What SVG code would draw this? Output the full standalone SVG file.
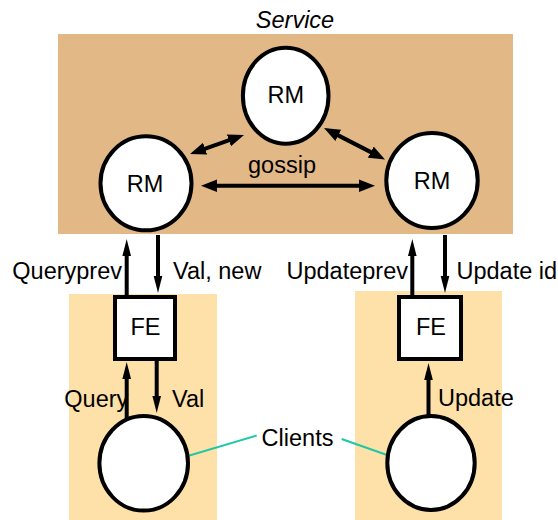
<svg xmlns="http://www.w3.org/2000/svg" width="558" height="520" viewBox="0 0 558 520">
<style>
text{font-family:"Liberation Sans",Arial,sans-serif;font-size:23.5px;fill:#000}
.mid{text-anchor:middle}
.end{text-anchor:end}
.node{fill:#fff;stroke:#000;stroke-width:4}
.conn{stroke:#000;stroke-width:4;fill:none}
.lbl{stroke:#1EC8A6;stroke-width:2;fill:none}
</style>
<defs>
<marker id="ah" markerUnits="userSpaceOnUse" markerWidth="18" markerHeight="10" viewBox="0 -5 18 10" refX="5" refY="0" orient="auto-start-reverse">
<path d="M0,-4.3 L17,0 L0,4.3 Z" fill="#000"/>
</marker>
<marker id="gh" markerUnits="userSpaceOnUse" markerWidth="17" markerHeight="14" viewBox="0 -7 17 14" refX="5" refY="0" orient="auto-start-reverse">
<path d="M0,-6.3 L16,0 L0,6.3 Z" fill="#000"/>
</marker>
</defs>
<g id="service">
<rect x="58" y="34" width="455" height="200" fill="#E2B887"/>
<text x="295" y="28" class="mid" font-style="italic">Service</text>
</g>
<g id="client-area-left"><rect x="69" y="294" width="148" height="226" fill="#FEE0A9"/></g>
<g id="client-area-right"><rect x="355" y="291" width="147" height="229" fill="#FEE0A9"/></g>
<g id="connectors">
<line class="conn" x1="212" y1="185.7" x2="364" y2="185.7" marker-start="url(#gh)" marker-end="url(#gh)"/>
<line class="conn" x1="200.4" y1="150.3" x2="233.6" y2="138.7" marker-start="url(#gh)" marker-end="url(#gh)"/>
<line class="conn" x1="333.8" y1="133.1" x2="375.2" y2="154.4" marker-start="url(#gh)" marker-end="url(#gh)"/>
<line class="conn" x1="126.7" y1="297" x2="126.7" y2="251" marker-end="url(#ah)"/>
<line class="conn" x1="158" y1="235" x2="158" y2="281" marker-end="url(#ah)"/>
<line class="conn" x1="412.3" y1="297" x2="412.3" y2="251" marker-end="url(#ah)"/>
<line class="conn" x1="445" y1="235" x2="445" y2="281" marker-end="url(#ah)"/>
<line class="conn" x1="126.7" y1="418" x2="126.7" y2="374" marker-end="url(#ah)"/>
<line class="conn" x1="156.7" y1="359" x2="156.7" y2="401" marker-end="url(#ah)"/>
<line class="conn" x1="428.5" y1="418" x2="428.5" y2="375" marker-end="url(#ah)"/>
<line class="lbl" x1="177.7" y1="459" x2="256.7" y2="435.5"/>
<line class="lbl" x1="341.7" y1="439" x2="399" y2="459.3"/>
</g>
<g id="rm-top"><ellipse class="node" cx="285.7" cy="95.7" rx="42.8" ry="48"/><text x="285.7" y="103.3" class="mid">RM</text></g>
<g id="rm-left"><ellipse class="node" cx="146" cy="183.3" rx="45.5" ry="47"/><text x="145" y="192.3" class="mid">RM</text></g>
<g id="rm-right"><ellipse class="node" cx="432" cy="180.5" rx="45.7" ry="47.5"/><text x="432" y="189" class="mid">RM</text></g>
<g id="gossip-label"><text x="282" y="173.3" class="mid">gossip</text></g>
<g id="fe-left"><rect class="node" x="115" y="297" width="60" height="62"/><text x="145.5" y="335" class="mid">FE</text></g>
<g id="fe-right"><rect class="node" x="399" y="297" width="62" height="62"/><text x="431" y="335" class="mid">FE</text></g>
<g id="client-left"><ellipse class="node" cx="143.7" cy="463.3" rx="44.3" ry="47.3"/></g>
<g id="client-right"><ellipse class="node" cx="431" cy="463" rx="43.7" ry="47"/></g>
<g id="labels">
<text x="122" y="279.3" class="end">Queryprev</text>
<text x="173" y="279.3">Val, new</text>
<text x="408" y="279.3" class="end">Updateprev</text>
<text x="456.5" y="279.3">Update id</text>
<text x="64.3" y="406.7">Query</text>
<text x="172" y="406.7">Val</text>
<text x="438" y="406">Update</text>
<text x="297.5" y="445.7" class="mid">Clients</text>
</g>
</svg>
